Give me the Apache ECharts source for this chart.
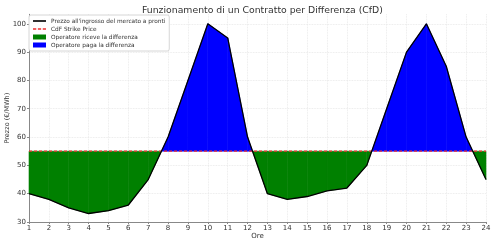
<!DOCTYPE html>
<html>
<head>
<meta charset="utf-8">
<script src="https://cdn.jsdelivr.net/npm/echarts@6/dist/echarts.min.js"></script>
<style>html,body{margin:0;padding:0;background:#fff}#c{width:495px;height:245px}</style>
</head>
<body>
<div id="c"></div>
<script>
var hours = [1,2,3,4,5,6,7,8,9,10,11,12,13,14,15,16,17,18,19,20,21,22,23,24];
var prices = [40,38,35,33,34,36,45,60,80,100,95,60,40,38,39,41,42,50,70,90,100,85,60,45];
var strike = 55;

var GREEN = '#008000', BLUE = '#0000ff', RED = '#f03030';
var priceData = hours.map(function(h,i){return [h, prices[i]];});
var strikeData = hours.map(function(h){return [h, strike];});
var segData = hours.slice(0, -1).map(function(h,i){return [h, prices[i], hours[i+1], prices[i+1]];});
var FONT = 'DejaVu Sans';

function poly(pts, color) {
  return {type: 'polygon', shape: {points: pts},
    style: {fill: color, stroke: color, lineWidth: 0.6}};
}
function renderSeg(params, api) {
  var x0 = api.value(0), y0 = api.value(1), x1 = api.value(2), y1 = api.value(3);
  var p0 = api.coord([x0, y0]), p1 = api.coord([x1, y1]);
  var s0 = api.coord([x0, strike]), s1 = api.coord([x1, strike]);
  var d0 = y0 - strike, d1 = y1 - strike;
  var children = [];
  if (d0 * d1 >= 0) {
    var col = (d0 + d1) > 0 ? BLUE : GREEN;
    if (d0 !== 0 || d1 !== 0) children.push(poly([p0, p1, s1, s0], col));
  } else {
    var t = d0 / (d0 - d1);
    var c = [p0[0] + t * (p1[0] - p0[0]), p0[1] + t * (p1[1] - p0[1])];
    children.push(poly([p0, c, s0], d0 > 0 ? BLUE : GREEN));
    children.push(poly([c, p1, s1], d1 > 0 ? BLUE : GREEN));
  }
  return {type: 'group', children: children};
}

var chart = echarts.init(document.getElementById('c'));
chart.setOption({
  animation: false,
  textStyle: {fontFamily: FONT},
  title: {text: 'Funzionamento di un Contratto per Differenza (CfD)', left: 137, top: 1,
    textStyle: {fontFamily: FONT, fontSize: 9.3, fontWeight: 'normal', color: '#333'}},
  grid: {left: 29, right: 9, top: 14.3, bottom: 23, containLabel: false, outerBoundsMode: 'none'},
  legend: {
    orient: 'vertical', left: 29, top: 15,
    backgroundColor: '#fff', borderColor: '#ccc', borderWidth: 0.8, borderRadius: 2,
    padding: [3, 4, 3, 4], itemGap: 2, itemWidth: 13, itemHeight: 5,
    textStyle: {fontFamily: FONT, fontSize: 5.8, color: '#333'},
    data: [
      {name: "Prezzo all'ingrosso del mercato a pronti", icon: 'path://M0,0h16v2h-16z'},
      {name: 'CdF Strike Price', icon: 'path://M0,0h4v2h-4z M6,0h4v2h-4z M12,0h4v2h-4z'},
      {name: 'Operatore riceve la differenza', icon: 'rect'},
      {name: 'Operatore paga la differenza', icon: 'rect'}
    ]
  },
  xAxis: {
    type: 'value', min: 1, max: 24, interval: 1,
    name: 'Ore', nameLocation: 'middle', nameGap: 11, nameMoveOverlap: false,
    nameTextStyle: {fontFamily: FONT, fontSize: 7, color: '#333'},
    axisLine: {lineStyle: {color: '#888', width: 1}},
    axisTick: {show: true, length: 2, lineStyle: {color: '#888'}},
    axisLabel: {fontFamily: FONT, fontSize: 7, color: '#333', margin: 3},
    splitLine: {show: true, lineStyle: {color: '#e4e4e4', type: 'dotted', width: 0.8}}
  },
  yAxis: {
    type: 'value', min: 30, max: 103.35, interval: 10,
    name: 'Prezzo (€/MWh)', nameLocation: 'middle', nameGap: 18, nameMoveOverlap: false,
    nameTextStyle: {fontFamily: FONT, fontSize: 6.5, color: '#333'},
    axisLine: {show: true, lineStyle: {color: '#888', width: 1}},
    axisTick: {show: true, length: 2, lineStyle: {color: '#888'}},
    axisLabel: {fontFamily: FONT, fontSize: 7, color: '#333', margin: 3, showMaxLabel: false},
    splitLine: {show: true, showMaxLine: false, lineStyle: {color: '#e4e4e4', type: 'dotted', width: 0.8}}
  },
  series: [
    {
      name: 'fill', type: 'custom', data: segData, renderItem: renderSeg, silent: true,
      encode: {x: [0, 2], y: [1, 3]}, z: 1
    },
    {
      name: 'Operatore riceve la differenza', type: 'line', data: [], symbol: 'none',
      itemStyle: {color: GREEN}, lineStyle: {color: GREEN}
    },
    {
      name: 'Operatore paga la differenza', type: 'line', data: [], symbol: 'none',
      itemStyle: {color: BLUE}, lineStyle: {color: BLUE}
    },
    {
      name: 'CdF Strike Price', type: 'line', data: strikeData, symbol: 'none',
      itemStyle: {color: RED},
      lineStyle: {color: RED, type: [3, 2], width: 1.2}, z: 3
    },
    {
      name: "Prezzo all'ingrosso del mercato a pronti", type: 'line', data: priceData, symbol: 'none',
      itemStyle: {color: '#000'},
      lineStyle: {color: '#000', width: 1.3}, z: 4
    }
  ]
});
</script>
</body>
</html>
